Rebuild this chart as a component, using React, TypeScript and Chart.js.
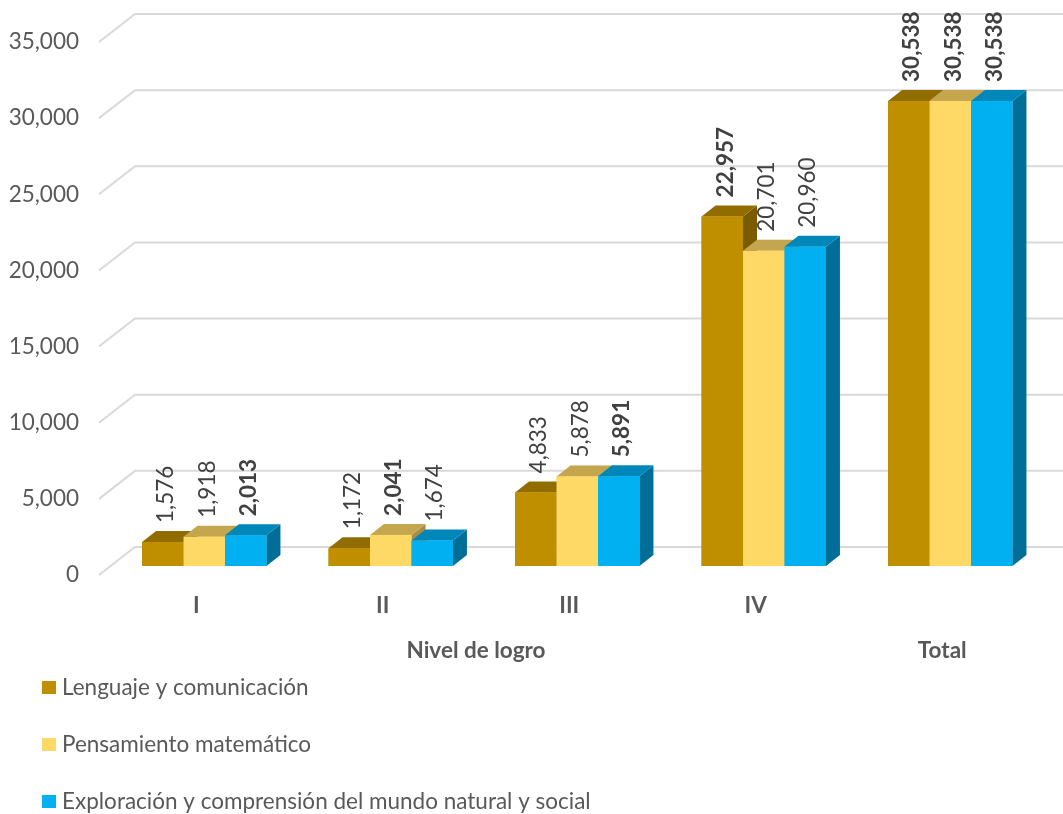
import React, { useEffect, useRef } from 'react';
import { Chart, registerables } from 'chart.js';

Chart.register(...registerables);

// ---- data ----
const categories = ['I', 'II', 'III', 'IV', ''];
const groupLabels = ['Nivel de logro', 'Total'];
const groupStart = [0, 4];
const groupEnd = [3, 4];
const seriesNames = [
  'Lenguaje y comunicación',
  'Pensamiento matemático',
  'Exploración y comprensión del mundo natural y social',
];
const lenguaje = [1576, 1172, 4833, 22957, 30538];
const pensamiento = [1918, 2041, 5878, 20701, 30538];
const exploracion = [2013, 1674, 5891, 20960, 30538];
const yMax = 35000;
const yStep = 5000;

// ---- styles ----
const frontColors = ['#BF8F00', '#FFD966', '#00B0F0'];
const topColors = ['#916D00', '#C4A64E', '#0087B9'];
const sideColors = ['#7A5B00', '#A88E43', '#006E96'];
const FONT = 'Lato, "Open Sans", sans-serif';
const FS = 22.5;
const DX = 14;
const DY = 11;

const fmt = (v: number) => String(v).replace(/\B(?=(\d{3})+(?!\d))/g, ',');

const threeD = {
  id: 'threeD',
  beforeDatasetsDraw(chart: any) {
    const { ctx, chartArea, scales } = chart;
    const y = scales.y;
    ctx.save();
    ctx.strokeStyle = '#D9D9D9';
    ctx.lineWidth = 2;
    for (const t of y.ticks) {
      const py = y.getPixelForValue(t.value);
      ctx.beginPath();
      ctx.moveTo(chartArea.left - 12, py + 9);
      ctx.lineTo(chartArea.left + 24, py - 19);
      ctx.lineTo(chart.width, py - 19);
      ctx.stroke();
    }
    ctx.restore();
  },
  afterDatasetsDraw(chart: any) {
    const { ctx } = chart;
    const n = chart.data.labels.length;
    const nd = chart.data.datasets.length;
    ctx.save();
    for (let i = 0; i < n; i++) {
      for (let j = 0; j < nd; j++) {
        const el = chart.getDatasetMeta(j).data[i];
        const { x, y, base, width } = el.getProps(['x', 'y', 'base', 'width'], true);
        const l = x - width / 2;
        const r = x + width / 2;
        // side
        ctx.fillStyle = sideColors[j];
        ctx.beginPath();
        ctx.moveTo(r, y);
        ctx.lineTo(r + DX, y - DY);
        ctx.lineTo(r + DX, base - DY);
        ctx.lineTo(r, base);
        ctx.closePath();
        ctx.fill();
        // top
        ctx.fillStyle = topColors[j];
        ctx.beginPath();
        ctx.moveTo(l, y);
        ctx.lineTo(l + DX, y - DY);
        ctx.lineTo(r + DX, y - DY);
        ctx.lineTo(r, y);
        ctx.closePath();
        ctx.fill();
        // front
        ctx.fillStyle = frontColors[j];
        ctx.fillRect(l, y, width, base - y);
      }
    }
    // value labels
    for (let i = 0; i < n; i++) {
      const vals = chart.data.datasets.map((d: any) => d.data[i]);
      const mx = Math.max(...vals);
      for (let j = 0; j < nd; j++) {
        const el = chart.getDatasetMeta(j).data[i];
        const { x, y } = el.getProps(['x', 'y'], true);
        const v = vals[j];
        ctx.save();
        ctx.translate(x + 3, y - 19);
        ctx.rotate(-Math.PI / 2);
        ctx.font = (v === mx ? 'bold ' : '') + FS + 'px ' + FONT;
        ctx.fillStyle = '#404040';
        ctx.textAlign = 'left';
        ctx.textBaseline = 'middle';
        ctx.fillText(fmt(v), 0, 0);
        ctx.restore();
      }
    }
    ctx.restore();
  },
  afterDraw(chart: any) {
    const { ctx, scales } = chart;
    const xs = scales.x;
    ctx.save();
    // group labels
    ctx.font = 'bold ' + FS + 'px ' + FONT;
    ctx.fillStyle = '#595959';
    ctx.textAlign = 'center';
    ctx.textBaseline = 'middle';
    for (let g = 0; g < groupLabels.length; g++) {
      const cx = (xs.getPixelForValue(groupStart[g]) + xs.getPixelForValue(groupEnd[g])) / 2 - 8;
      ctx.fillText(groupLabels[g], cx, 651);
    }
    // legend
    ctx.font = FS + 'px ' + FONT;
    ctx.textAlign = 'left';
    chart.data.datasets.forEach((d: any, k: number) => {
      const cy = 688 + k * 57;
      ctx.fillStyle = frontColors[k];
      ctx.fillRect(42, cy - 7, 14, 13);
      ctx.fillStyle = '#595959';
      ctx.fillText(d.label, 62, cy);
    });
    ctx.restore();
  },
};

export default function App() {
  const ref = useRef<HTMLCanvasElement | null>(null);
  useEffect(() => {
    document.body.style.margin = '0';
    if (!ref.current) return;
    const chart = new Chart(ref.current, {
      type: 'bar',
      data: {
        labels: categories,
        datasets: [
          { label: seriesNames[0], data: lenguaje, backgroundColor: frontColors[0] },
          { label: seriesNames[1], data: pensamiento, backgroundColor: frontColors[1] },
          { label: seriesNames[2], data: exploracion, backgroundColor: frontColors[2] },
        ],
      },
      options: {
        responsive: false,
        animation: false,
        devicePixelRatio: 1,
        layout: { padding: { left: 0, right: 19.5, top: 33, bottom: 0 } },
        datasets: { bar: { categoryPercentage: 0.667, barPercentage: 1, borderWidth: 0 } },
        plugins: { legend: { display: false }, tooltip: { enabled: false } },
        scales: {
          x: {
            grid: { display: false, drawTicks: false },
            border: { display: false },
            ticks: {
              color: '#595959',
              font: { family: FONT, size: FS, weight: 'bold' },
              padding: 26,
              labelOffset: -8,
              maxRotation: 0,
              autoSkip: false,
            },
            afterFit: (s: any) => { s.height = 248; s.paddingLeft = 0; s.paddingRight = 0; },
          },
          y: {
            min: 0,
            max: yMax,
            grid: { display: false, drawTicks: false },
            border: { display: false },
            ticks: {
              stepSize: yStep,
              color: '#595959',
              font: { family: FONT, size: FS },
              padding: 32,
              labelOffset: 9,
              callback: (v: any) => fmt(Number(v)),
            },
            afterFit: (s: any) => { s.width = 111; s.paddingTop = 0; s.paddingBottom = 0; },
          },
        },
      },
      plugins: [threeD],
    } as any);
    return () => chart.destroy();
  }, []);
  return (
    <div style={{ width: 1063, height: 814 }}>
      <canvas ref={ref} width={1063} height={814} style={{ display: 'block' }} />
    </div>
  );
}
